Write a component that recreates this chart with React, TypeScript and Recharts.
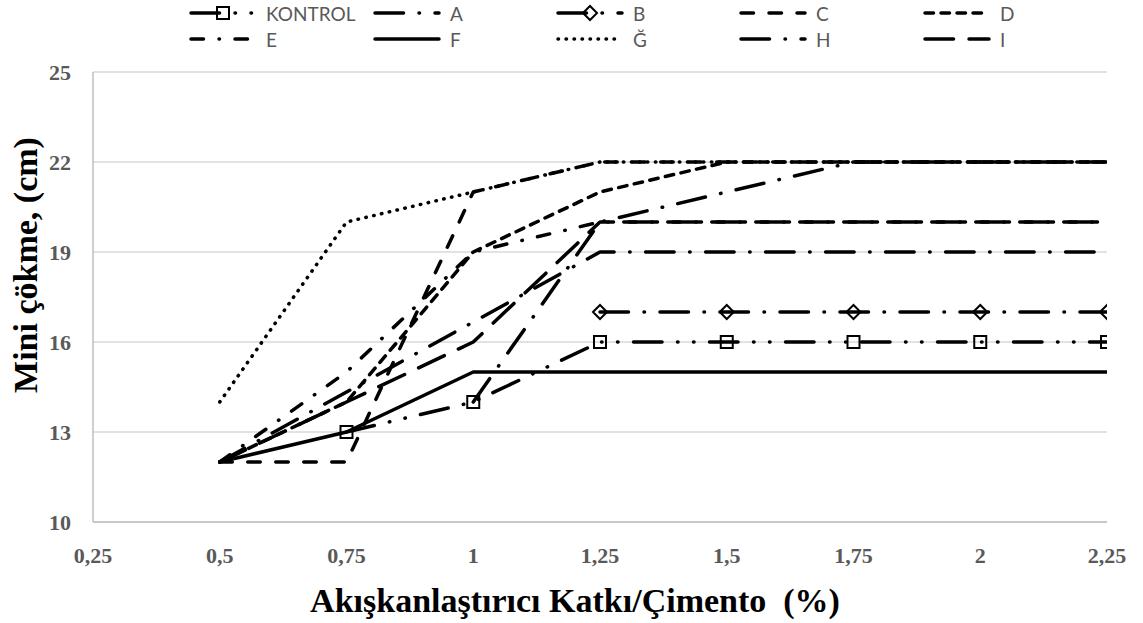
import { LineChart, Line, XAxis, YAxis, CartesianGrid } from 'recharts';

// x values (Akışkanlaştırıcı Katkı/Çimento, %)
const xValues = [0.5, 0.75, 1, 1.25, 1.5, 1.75, 2, 2.25];

// mini çökme (cm) per mix
const kontrol = [null, 13, 14, 16, 16, 16, 16, 16];
const mixA = [null, null, 14, 20, 21, 22, 22, 22];
const mixB = [null, null, null, 17, 17, 17, 17, 17];
const mixC = [12, 12, 21, 22, 22, 22, 22, 22];
const mixD = [12, 14, 19, 21, 22, 22, 22, 22];
const mixE = [12, 15, 19, 20, 20, 20, 20, 20];
const mixF = [12, 13, 15, 15, 15, 15, 15, 15];
const mixG = [14, 20, 21, 22, 22, 22, 22, 22];
const mixH = [12, null, null, 19, 19, 19, 19, 19];
const mixI = [12, 14, 16, 20, 20, 20, 20, 20];

const xTicks = [0.25, 0.5, 0.75, 1, 1.25, 1.5, 1.75, 2, 2.25];
const yTicks = [10, 13, 16, 19, 22, 25];

const W = 1143;
const H = 623;
const LW = 3.5;

// excel-like dash patterns in line-width units, round caps
const pat = (u: number[]) =>
  u.map((v, i) => (i % 2 === 0 ? Math.max(v * 4 - LW, 0.01) : v * 4 + LW)).join(' ');

const serif = "'Liberation Serif', 'Times New Roman', serif";
const legendFont = "'Liberation Sans Narrow', Lato, sans-serif";

type Marker = 'square' | 'diamond' | undefined;

const series: { key: string; values: (number | null)[]; dash?: string; marker?: Marker; connect?: boolean }[] = [
  { key: 'KONTROL', values: kontrol, dash: pat([8, 3, 1, 3, 1, 3]), marker: 'square' },
  { key: 'A', values: mixA, dash: pat([8, 3, 1, 3]) },
  { key: 'B', values: mixB, dash: pat([8, 3, 1, 3]), marker: 'diamond' },
  { key: 'C', values: mixC, dash: pat([4, 3]) },
  { key: 'D', values: mixD, dash: pat([3, 1]) },
  { key: 'E', values: mixE, dash: pat([4, 3, 1, 3]) },
  { key: 'F', values: mixF },
  { key: 'Ğ', values: mixG, dash: pat([1, 1]) },
  { key: 'H', values: mixH, dash: pat([8, 3, 1, 3]), connect: true },
  { key: 'I', values: mixI, dash: pat([8, 3]) },
];

const rows = xValues.map((x, i) => {
  const r: Record<string, number | null> = { x };
  series.forEach((s) => (r[s.key] = s.values[i]));
  return r;
});

const markerShape = (m: Marker, cx: number, cy: number, key: string) => {
  if (m === 'square')
    return <rect key={key} x={cx - 6} y={cy - 6} width={12} height={12} fill="none" stroke="#000" strokeWidth={2} strokeDasharray="none" />;
  return (
    <path key={key} d={`M${cx - 7},${cy} L${cx},${cy - 7} L${cx + 7},${cy} L${cx},${cy + 7} Z`} fill="none" stroke="#000" strokeWidth={2} strokeDasharray="none" />
  );
};

const makeDot = (m: Marker) => (props: any) => {
  const { cx, cy, index, value } = props;
  const key = `${m}-${index}`;
  if (cx == null || cy == null || value == null) return <g key={key} />;
  return markerShape(m, cx, cy, key);
};

const legendCols = [188, 372, 555, 738, 922];

const Legend = () => (
  <>
    {series.map((s, i) => {
      const left = legendCols[i % 5];
      const top = i < 5 ? 3 : 29;
      return (
        <div key={s.key} style={{ position: 'absolute', left, top, height: 20, display: 'flex', alignItems: 'center', whiteSpace: 'nowrap' }}>
          <svg width={70} height={20}>
            <line x1={3} y1={10} x2={67} y2={10} stroke="#000" strokeWidth={LW} strokeLinecap="round" strokeDasharray={s.dash} />
            {s.marker && markerShape(s.marker, 35, 10, 'm')}
          </svg>
          <span style={{ marginLeft: 8, fontFamily: legendFont, fontSize: 19, color: '#595959' }}>{s.key}</span>
        </div>
      );
    })}
  </>
);

export default function App() {
  return (
    <div style={{ position: 'absolute', left: 0, top: 0, width: W, height: H, background: '#fff' }}>
      <LineChart width={W} height={H} data={rows} margin={{ top: 72, right: 36, bottom: 61, left: 0 }}>
        <CartesianGrid vertical={false} stroke="#d9d9d9" strokeWidth={1.5} />
        <XAxis
          dataKey="x"
          type="number"
          domain={[0.25, 2.25]}
          ticks={xTicks}
          interval={0}
          allowDataOverflow
          height={40}
          tickLine={false}
          tickSize={0}
          tickMargin={25}
          axisLine={{ stroke: '#bfbfbf', strokeWidth: 1.5 }}
          tickFormatter={(v: number) => String(v).replace('.', ',')}
          tick={{ fill: '#595959', fontSize: 22, fontWeight: 'bold', fontFamily: serif }}
        />
        <YAxis
          type="number"
          domain={[10, 25]}
          ticks={yTicks}
          interval={0}
          width={93}
          tickLine={false}
          tickSize={0}
          tickMargin={22}
          axisLine={{ stroke: '#bfbfbf', strokeWidth: 1.5 }}
          tick={{ fill: '#595959', fontSize: 22, fontWeight: 'bold', fontFamily: serif }}
        />
        {series.map((s) => (
          <Line
            key={s.key}
            dataKey={s.key}
            type="linear"
            stroke="#000"
            strokeWidth={LW}
            strokeLinecap="round"
            strokeLinejoin="round"
            strokeDasharray={s.dash}
            connectNulls={!!s.connect}
            dot={s.marker ? makeDot(s.marker) : false}
            activeDot={false}
            isAnimationActive={false}
          />
        ))}
      </LineChart>
      <Legend />
      <div style={{ position: 'absolute', left: 575, top: 601, transform: 'translate(-50%, -50%)', whiteSpace: 'nowrap', fontFamily: serif, fontWeight: 'bold', fontSize: 34, color: '#000' }}>
        Akışkanlaştırıcı Katkı/Çimento&nbsp;&nbsp;(%)
      </div>
      <div style={{ position: 'absolute', left: 26, top: 265, transform: 'translate(-50%, -50%) rotate(-90deg)', whiteSpace: 'nowrap', fontFamily: serif, fontWeight: 'bold', fontSize: 34, color: '#000' }}>
        Mini çökme, (cm)
      </div>
    </div>
  );
}
